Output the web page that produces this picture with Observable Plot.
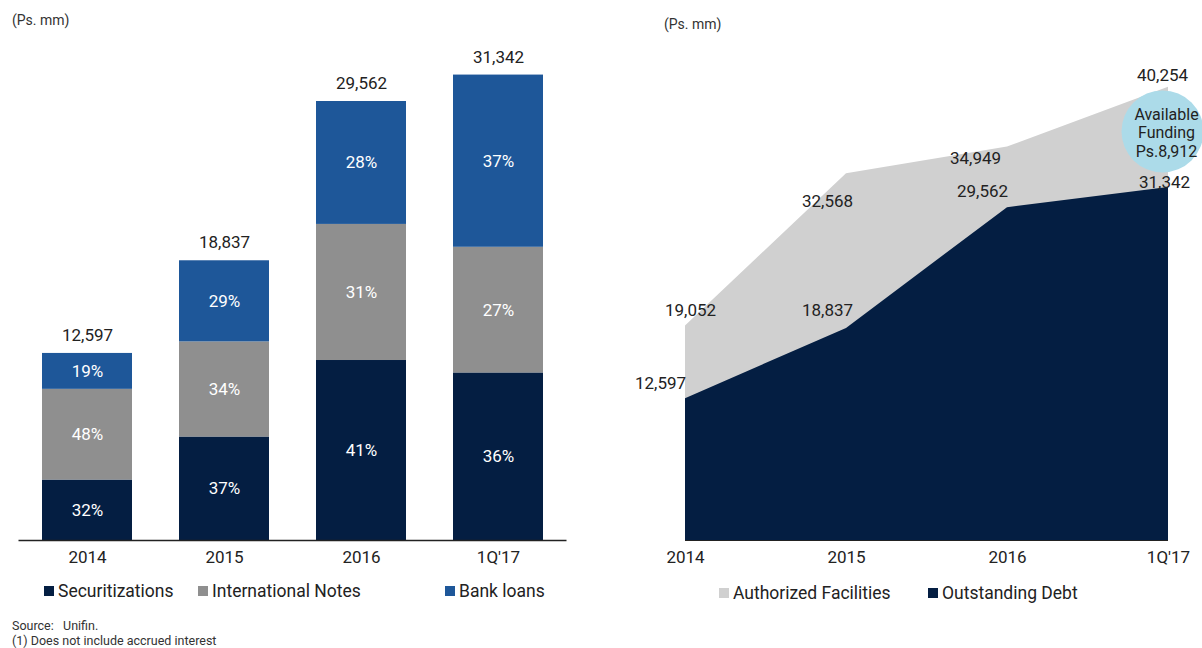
<!DOCTYPE html>
<html><head><meta charset="utf-8">
<script src="https://cdn.jsdelivr.net/npm/d3@7"></script>
<script src="https://cdn.jsdelivr.net/npm/@observablehq/plot@0.6"></script>
<style>
body{margin:0;background:#fff;font-family:Roboto,"Liberation Sans",Arial,sans-serif;}
#wrap{position:relative;width:1202px;height:648px;overflow:hidden;background:#fff;}
.abs{position:absolute;white-space:nowrap;color:#222;line-height:1;}
.sw{display:inline-block;width:10px;height:10px;margin-right:4px;vertical-align:1px;}
.lg{font-size:17.5px;}
.unit{font-size:14px;color:#333;}
.src{font-size:12.5px;color:#333;}
</style></head><body><div id="wrap"></div>
<script>
// ---- data ----
const periods = ["2014", "2015", "2016", "1Q'17"];
const totalDebt = [12597, 18837, 29562, 31342];
const securitizationsPct = [32, 37, 41, 36];
const intlNotesPct = [48, 34, 31, 27];
const bankLoansPct = [19, 29, 28, 37];
const seriesNames = ["Securitizations", "International Notes", "Bank loans"];
const authorizedFacilities = [19052, 32568, 34949, 40254];
const outstandingDebt = [12597, 18837, 29562, 31342];
const availableFunding = 8912;

// ---- styles ----
const NAVY = "#041e42", GREY = "#8f8f8f", BLUE = "#1e5799", LIGHT = "#d0d0d0", CIRCLE = "#acdbe9";
const FONT = 'Roboto,"Liberation Sans",Arial,sans-serif';
const fmt = d3.format(",");
const wrap = document.getElementById("wrap");

// ---- left: stacked bars ----
const rows = [];
periods.forEach((p, i) => {
  const parts = [[seriesNames[0], securitizationsPct[i]], [seriesNames[1], intlNotesPct[i]], [seriesNames[2], bankLoansPct[i]]];
  const s = d3.sum(parts, d => d[1]);
  let acc = 0;
  for (const [name, pct] of parts) {
    const v = totalDebt[i] * pct / s;
    rows.push({period: p, series: name, pct, y1: acc, y2: acc + v, mid: acc + v / 2});
    acc += v;
  }
});
const totals = periods.map((p, i) => ({period: p, total: totalDebt[i]}));

const left = Plot.plot({
  width: 580, height: 575,
  marginLeft: 18.5, marginRight: 13.5, marginTop: 40, marginBottom: 35,
  x: {domain: periods, paddingInner: 0.34, paddingOuter: 0.17, label: null},
  y: {domain: [0, 33670], axis: null},
  color: {domain: seriesNames, range: [NAVY, GREY, BLUE]},
  style: {fontFamily: FONT, fontSize: "17px", color: "#222", background: "transparent"},
  marks: [
    Plot.barY(rows, {x: "period", y1: "y1", y2: "y2", fill: "series"}),
    Plot.text(rows, {x: "period", y: "mid", text: d => d.pct + "%", fill: "white", fontSize: 17}),
    Plot.text(totals, {x: "period", y: "total", text: d => fmt(d.total), dy: -18, fontSize: 17, fill: "#222"}),
    Plot.ruleY([0], {stroke: "#222", strokeWidth: 1.5}),
    Plot.axisX({tickSize: 0, tickPadding: 10, fontSize: 17, fill: "#222", label: null})
  ]
});
left.style.position = "absolute"; left.style.left = "0px"; left.style.top = "0px";
wrap.appendChild(left);

// ---- right: areas ----
const area = periods.map((p, i) => ({period: p, auth: authorizedFacilities[i], out: outstandingDebt[i]}));
const authOffsets = [[5, -15], [-19, 28], [-32, 12], [-6, -12]];
const outOffsets = [[-25, -15], [-19, -18], [-25, -16], [-4, -5]];
const circleDatum = [{period: periods[3], y: (authorizedFacilities[3] + outstandingDebt[3]) / 2, label: "Available\nFunding\nPs." + fmt(availableFunding)}];

const right = Plot.plot({
  width: 602, height: 575,
  marginLeft: 85, marginRight: 34, marginTop: 40, marginBottom: 35,
  x: {type: "point", domain: periods, padding: 0, label: null},
  y: {domain: [0, 44405], axis: null},
  style: {fontFamily: FONT, fontSize: "17px", color: "#222", background: "transparent"},
  marks: [
    Plot.areaY(area, {x: "period", y: "auth", fill: LIGHT}),
    Plot.areaY(area, {x: "period", y: "out", fill: NAVY}),
    Plot.ruleY([0], {stroke: "#222", strokeWidth: 1}),
    Plot.dot(circleDatum, {x: "period", y: "y", r: 41, fill: CIRCLE, stroke: null, dx: -6, dy: -6}),
    Plot.text(circleDatum, {x: "period", y: "y", text: "label", dx: -2, dy: -5, fontSize: 16, lineHeight: 1.18, fill: "#222"}),
    ...area.map((d, i) => Plot.text([d], {x: "period", y: "auth", text: r => fmt(r.auth), dx: authOffsets[i][0], dy: authOffsets[i][1], fontSize: 17, fill: "#222"})),
    ...area.map((d, i) => Plot.text([d], {x: "period", y: "out", text: r => fmt(r.out), dx: outOffsets[i][0], dy: outOffsets[i][1], fontSize: 17, fill: "#222"})),
    Plot.axisX({tickSize: 0, tickPadding: 10, fontSize: 17, fill: "#222", label: null})
  ]
});
right.style.position = "absolute"; right.style.left = "600px"; right.style.top = "0px";
wrap.appendChild(right);

// ---- html text: units, legends, source ----
function addDiv(html, cls, x, y) {
  const d = document.createElement("div");
  d.className = "abs " + cls; d.innerHTML = html;
  d.style.left = x + "px"; d.style.top = y + "px";
  wrap.appendChild(d);
  return d;
}
addDiv("(Ps. mm)", "unit", 12, 13);
addDiv("(Ps. mm)", "unit", 664, 17);
const legLeft = [[seriesNames[0], NAVY, 44], [seriesNames[1], GREY, 198], [seriesNames[2], BLUE, 445]];
legLeft.forEach(([t, c, x]) => addDiv(`<span class="sw" style="background:${c}"></span>${t}`, "lg", x, 583));
const legRight = [["Authorized Facilities", LIGHT, 719], ["Outstanding Debt", NAVY, 928]];
legRight.forEach(([t, c, x]) => addDiv(`<span class="sw" style="background:${c}"></span>${t}`, "lg", x, 585));
addDiv("Source:&nbsp;&nbsp; Unifin.", "src", 12, 620);
addDiv("(1) Does not include accrued interest", "src", 12, 635);
</script>
</body></html>
